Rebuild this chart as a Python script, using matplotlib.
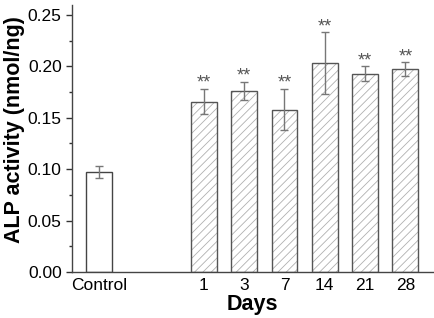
import numpy as np
import matplotlib
matplotlib.use("Agg")
import matplotlib.pyplot as plt

plt.rcParams['font.family'] = ['Liberation Sans', 'DejaVu Sans']
plt.rcParams['hatch.linewidth'] = 0.6

labels = ["Control", "1", "3", "7", "14", "21", "28"]
values = [0.097, 0.1657, 0.176, 0.158, 0.203, 0.1926, 0.1972]
errors = [0.006, 0.0125, 0.009, 0.020, 0.030, 0.0073, 0.0067]
stars = ["", "**", "**", "**", "**", "**", "**"]

xpos = np.array([0.0] + [2.6 + i for i in range(6)])

fig = plt.figure(figsize=(4.34, 3.18), dpi=100)
ax = fig.add_axes([0.166, 0.1447, 0.834, 0.8406])

w = 0.64
# control bar: plain white
ax.bar(xpos[:1], values[:1], width=w, color="white", edgecolor="#444444", linewidth=1.0, zorder=2)
# day bars: hatched light grey, dark outline on top
ax.bar(xpos[1:], values[1:], width=w, color="white", edgecolor="#b0b0b0", hatch="////", linewidth=0, zorder=2)
ax.bar(xpos[1:], values[1:], width=w, fill=False, edgecolor="#555555", linewidth=1.0, zorder=3)

ax.errorbar(xpos, values, yerr=errors, fmt="none", ecolor="#777777", elinewidth=1.0,
            capsize=3, capthick=1.0, zorder=4)

for x, v, e, s in zip(xpos, values, errors, stars):
    if s:
        ax.annotate(s, (x, v + e), xytext=(0, -2), textcoords="offset points",
                    ha="center", va="bottom", fontsize=13, color="#555555")

ax.set_xlim(-0.67, 8.31)
ax.set_ylim(0, 0.26)
ax.set_xticks(xpos)
ax.set_xticklabels(labels)
ax.set_yticks(np.arange(0, 0.26, 0.05))
ax.set_yticks(np.arange(0.025, 0.26, 0.05), minor=True)
ax.yaxis.set_major_formatter(matplotlib.ticker.FormatStrFormatter("%.2f"))
ax.tick_params(axis="y", which="major", length=4, width=1, direction="out", labelsize=12.5, colors="#333333", labelcolor="black")
ax.tick_params(axis="y", which="minor", length=2.5, width=1, direction="out", colors="#333333")
ax.tick_params(axis="x", length=0, labelsize=12.5, pad=4)

for side in ["top", "right"]:
    ax.spines[side].set_visible(False)
for side in ["left", "bottom"]:
    ax.spines[side].set_color("#444444")
    ax.spines[side].set_linewidth(1.0)

ax.set_ylabel("ALP activity (nmol/ng)", fontsize=15.5, fontweight="bold", va="center")
ax.yaxis.set_label_coords((14 - 72) / 362, (272 - 130) / 267.3)
ax.set_xlabel("Days", fontsize=15.5, fontweight="bold", va="center")
ax.xaxis.set_label_coords((252 - 72) / 362, -(305 - 272) / 267.3)

fig.savefig("out.png", dpi=100)
